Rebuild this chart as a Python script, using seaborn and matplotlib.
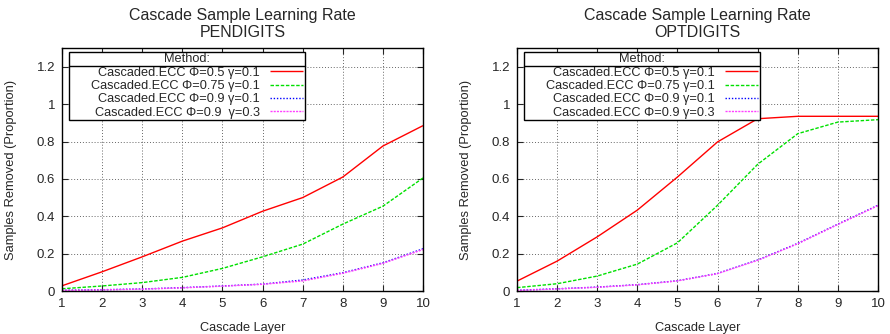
import numpy as np
import pandas as pd
import matplotlib
matplotlib.use("Agg")
import matplotlib.pyplot as plt
import seaborn as sns
from matplotlib.lines import Line2D

# Data
layers = [1, 2, 3, 4, 5, 6, 7, 8, 9, 10]

pen_p05_g01 = [0.028, 0.103, 0.183, 0.267, 0.338, 0.427, 0.500, 0.610, 0.776, 0.885]
pen_p075_g01 = [0.012, 0.027, 0.045, 0.073, 0.121, 0.183, 0.251, 0.358, 0.454, 0.605]
pen_p09_g01 = [0.004, 0.007, 0.011, 0.018, 0.027, 0.037, 0.059, 0.098, 0.151, 0.226]
pen_p09_g03 = [0.003, 0.006, 0.010, 0.017, 0.026, 0.036, 0.054, 0.095, 0.148, 0.222]

opt_p05_g01 = [0.053, 0.160, 0.290, 0.433, 0.610, 0.798, 0.922, 0.935, 0.935, 0.935]
opt_p075_g01 = [0.018, 0.039, 0.080, 0.144, 0.258, 0.459, 0.678, 0.842, 0.904, 0.917]
opt_p09_g01 = [0.004, 0.012, 0.021, 0.034, 0.055, 0.094, 0.166, 0.255, 0.358, 0.459]
opt_p09_g03 = [0.003, 0.011, 0.020, 0.033, 0.054, 0.093, 0.164, 0.253, 0.356, 0.457]

labels = ["Cascaded.ECC \u03a6=0.5 \u03b3=0.1",
          "Cascaded.ECC \u03a6=0.75 \u03b3=0.1",
          "Cascaded.ECC \u03a6=0.9 \u03b3=0.1",
          "Cascaded.ECC \u03a6=0.9  \u03b3=0.3"]
labels_opt = ["Cascaded.ECC \u03a6=0.5 \u03b3=0.1",
              "Cascaded.ECC \u03a6=0.75 \u03b3=0.1",
              "Cascaded.ECC \u03a6=0.9 \u03b3=0.1",
              "Cascaded.ECC \u03a6=0.9 \u03b3=0.3"]
yticks = [0, 0.2, 0.4, 0.6, 0.8, 1.0, 1.2]
ytick_labels = ["0", "0.2", "0.4", "0.6", "0.8", "1", "1.2"]

colors = ["#ff0000", "#00e000", "#0000ff", "#ff40ff"]
styles = [(0, ()), (0, (2.5, 1.2)), (0, (1, 1.3)), (0, (1.5, 0.8))]

sns.set_style("ticks")
plt.rcParams["font.family"] = ["Liberation Sans", "DejaVu Sans"]

fig = plt.figure(figsize=(8.9, 3.34), dpi=100)
ax1 = fig.add_axes([0.0697, 0.1287, 0.4056, 0.7273])
ax2 = fig.add_axes([0.5809, 0.1287, 0.4056, 0.7273])

panels = [
    (ax1, "Cascade Sample Learning Rate\nPENDIGITS",
     [pen_p05_g01, pen_p075_g01, pen_p09_g01, pen_p09_g03], labels),
    (ax2, "Cascade Sample Learning Rate\nOPTDIGITS",
     [opt_p05_g01, opt_p075_g01, opt_p09_g01, opt_p09_g03], labels_opt),
]

pad = " " * 6  # the reference legend box leaves room left of the labels

legends = []
for ax, title, series, labs in panels:
    for vals, lab, c, ls in zip(series, labs, colors, styles):
        df = pd.DataFrame({"layer": layers, "value": vals})
        sns.lineplot(data=df, x="layer", y="value", ax=ax, color=c,
                     linestyle=ls, linewidth=1.0, label=pad + lab)
    ax.set_xlim(1, 10)
    ax.set_ylim(0, 1.3)
    ax.set_xticks(layers)
    ax.set_yticks(yticks)
    ax.set_yticklabels(ytick_labels)
    ax.grid(True, color="0.4", linestyle=(0, (1, 2)), linewidth=0.7)
    ax.tick_params(direction="in", top=True, right=True, labelsize=9.5,
                   length=4, width=0.8, pad=5)
    for sp in ax.spines.values():
        sp.set_linewidth(1.0)
        sp.set_color("black")
    ax.set_title(title, fontsize=11.5, linespacing=1.15, pad=8)
    ax.set_xlabel("Cascade Layer", fontsize=9.2, labelpad=9)
    ax.set_ylabel("Samples Removed (Proportion)", fontsize=9.3, labelpad=14)
    leg = ax.legend(loc="upper left", bbox_to_anchor=(0.019, 0.984),
                    title="Method:", title_fontsize=9.2, fontsize=9.2,
                    markerfirst=False, frameon=True, fancybox=False,
                    edgecolor="black", framealpha=1.0, handlelength=2.6,
                    borderpad=0.1, labelspacing=0.11, handletextpad=0.8,
                    borderaxespad=0)
    leg.get_frame().set_linewidth(1.0)
    legends.append((ax, leg))

# line under the legend title, like the reference
fig.canvas.draw()
renderer = fig.canvas.get_renderer()
inv = fig.transFigure.inverted()
for ax, leg in legends:
    lb = leg.get_window_extent(renderer)
    tb = leg.get_title().get_window_extent(renderer)
    first = leg.get_texts()[0].get_window_extent(renderer)
    y = (tb.y0 + first.y1) / 2
    (x0, yy), (x1, _) = inv.transform([(lb.x0, y), (lb.x1, y)])
    fig.add_artist(Line2D([x0, x1], [yy, yy], color="black", linewidth=1.0))

fig.savefig("out.png", dpi=100)
